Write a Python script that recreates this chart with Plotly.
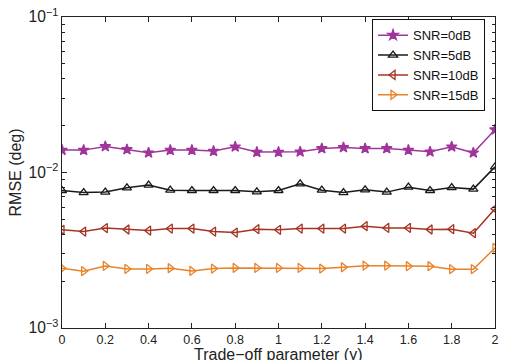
import plotly.graph_objects as go

# Trade-off parameter values
gamma = [0.0, 0.1, 0.2, 0.3, 0.4, 0.5, 0.6, 0.7, 0.8, 0.9, 1.0,
         1.1, 1.2, 1.3, 1.4, 1.5, 1.6, 1.7, 1.8, 1.9, 2.0]

# RMSE (deg) for each SNR level
rmse_0db = [0.01393, 0.01393, 0.01471, 0.01406, 0.01339, 0.01393, 0.01393,
            0.01373, 0.01464, 0.01353, 0.01353, 0.01359, 0.01427, 0.01449,
            0.01427, 0.01427, 0.01393, 0.01359, 0.01464, 0.01339, 0.01884]
rmse_5db = [0.00766, 0.00743, 0.00748, 0.00797, 0.00830, 0.00770, 0.00766,
            0.00766, 0.00766, 0.00751, 0.00766, 0.00846, 0.00770, 0.00743,
            0.00774, 0.00748, 0.00805, 0.00766, 0.00800, 0.00782, 0.01088]
rmse_10db = [0.00428, 0.00417, 0.00439, 0.00430, 0.00423, 0.00436, 0.00436,
             0.00417, 0.00411, 0.00432, 0.00428, 0.00436, 0.00436, 0.00436,
             0.00452, 0.00440, 0.00440, 0.00430, 0.00432, 0.00407, 0.00584]
rmse_15db = [0.002423, 0.002318, 0.002507, 0.002399, 0.002399, 0.002423,
             0.002328, 0.002409, 0.002433, 0.002433, 0.002433, 0.002433,
             0.002409, 0.002459, 0.002518, 0.002518, 0.002496, 0.002496,
             0.002388, 0.002388, 0.003274]

series = [
    ("SNR=0dB", rmse_0db, "#A0359B", "star"),
    ("SNR=5dB", rmse_5db, "#1a1a1a", "triangle-up-open"),
    ("SNR=10dB", rmse_10db, "#A53422", "triangle-left-open"),
    ("SNR=15dB", rmse_15db, "#E8832A", "triangle-right-open"),
]

x_title = "Trade\u2212off parameter (\u03b3)"
y_title = "RMSE (deg)"

fig = go.Figure()
for name, vals, color, symbol in series:
    fig.add_trace(go.Scatter(
        x=gamma, y=vals, name=name, mode="lines+markers",
        line=dict(color=color, width=1.5),
        marker=dict(symbol=symbol, size=8,
                    color=color, line=dict(color=color, width=1.3)),
    ))

family = "Liberation Sans, Arial, sans-serif"
title_font = dict(family=family, size=16, color="#222")

fig.update_layout(
    width=508, height=360,
    margin=dict(l=62, r=13, t=17, b=32),
    paper_bgcolor="white", plot_bgcolor="white",
    font=dict(family=family, size=12.5, color="#222"),
    showlegend=True,
    legend=dict(
        x=0.977, y=0.993, xanchor="right", yanchor="top",
        bgcolor="white", bordercolor="#111", borderwidth=1,
        font=dict(family=family, size=13, color="#111"),
        tracegroupgap=0, itemwidth=30,
    ),
)

# Axis titles placed as annotations so they sit tight against the tick labels
fig.add_annotation(
    text=x_title, xref="paper", yref="paper", x=0.5, y=0,
    xanchor="center", yanchor="top", yshift=-16, showarrow=False,
    font=title_font,
)
fig.add_annotation(
    text=y_title, xref="paper", yref="paper", x=0, y=0.5,
    xanchor="center", yanchor="middle", xshift=-47, textangle=-90,
    showarrow=False, font=title_font,
)

fig.update_xaxes(
    range=[0, 2], tickmode="array",
    tickvals=[0, 0.2, 0.4, 0.6, 0.8, 1, 1.2, 1.4, 1.6, 1.8, 2],
    ticktext=["0", "0.2", "0.4", "0.6", "0.8", "1", "1.2", "1.4", "1.6", "1.8", "2"],
    ticks="inside", ticklen=5, tickcolor="#222",
    showline=True, linecolor="#222", linewidth=1.3, mirror="ticks",
    showgrid=False, zeroline=False, automargin=False,
)

fig.update_yaxes(
    type="log", range=[-3, -1], dtick=1, exponentformat="power",
    ticks="inside", ticklen=5, tickcolor="#222",
    minor=dict(ticks="inside", ticklen=3, tickcolor="#222", showgrid=False),
    showline=True, linecolor="#222", linewidth=1.3, mirror="ticks",
    showgrid=False, zeroline=False, automargin=False,
)

fig.write_html("out.html")
